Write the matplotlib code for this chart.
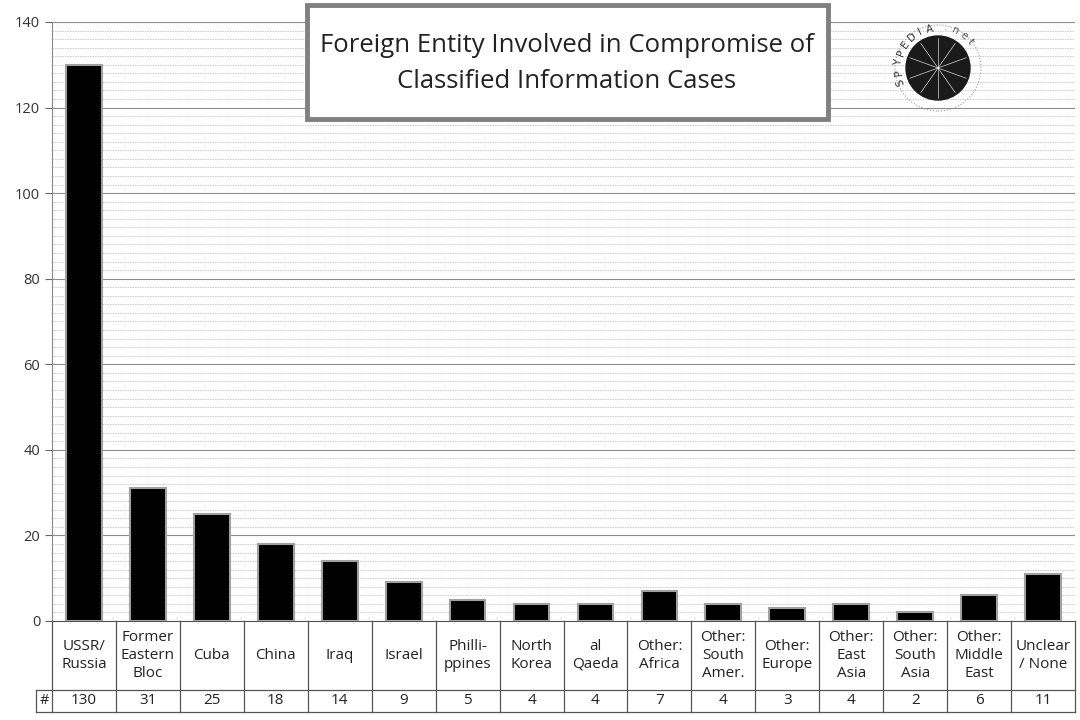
import numpy as np
import matplotlib.pyplot as plt
from matplotlib.patches import Circle, Rectangle

plt.rcParams['font.family'] = ['Open Sans', 'DejaVu Sans']

categories = ["USSR/\nRussia", "Former\nEastern\nBloc", "Cuba", "China", "Iraq", "Israel",
              "Philli-\nppines", "North\nKorea", "al\nQaeda", "Other:\nAfrica", "Other:\nSouth\nAmer.",
              "Other:\nEurope", "Other:\nEast\nAsia", "Other:\nSouth\nAsia", "Other:\nMiddle\nEast",
              "Unclear\n/ None"]
counts = [130, 31, 25, 18, 14, 9, 5, 4, 4, 7, 4, 3, 4, 2, 6, 11]
title_lines = ["Foreign Entity Involved in Compromise of", "Classified Information Cases"]

W, H = 1080, 720
fig = plt.figure(figsize=(10.8, 7.2), dpi=100)
L, R = 52 / W, 1075 / W
ax = fig.add_axes([L, (H - 621) / H, R - L, (621 - 22) / H])

x = np.arange(len(counts))
ax.bar(x, counts, width=0.56, color='black', edgecolor='#a0a0a0', linewidth=1.5, zorder=3)
ax.set_xlim(-0.5, len(counts) - 0.5)
ax.set_ylim(0, 140)
ax.set_yticks(range(0, 141, 20))
ax.set_yticks(range(0, 141, 2), minor=True)
ax.tick_params(axis='y', which='major', length=5, color='#666666', labelsize=10.5, labelcolor='#333333')
ax.tick_params(axis='y', which='minor', length=0)
ax.set_xticks([])
ax.grid(axis='y', which='minor', color='#c8c8c8', linewidth=0.6, linestyle=(0, (2, 1)), zorder=0)
ax.grid(axis='y', which='major', color='#8c8c8c', linewidth=0.8, zorder=1)
for s in ['top', 'right']:
    ax.spines[s].set_visible(False)
ax.spines['left'].set_color('#888888')
ax.spines['bottom'].set_color('#555555')

# title box
fig.patches.append(Rectangle((307 / W, 1 - 119 / H), (828 - 307) / W, (119 - 5) / H,
                             transform=fig.transFigure, facecolor='white', edgecolor='#808080',
                             linewidth=3.5, zorder=5))
fig.text(567 / W, 1 - 45 / H, title_lines[0], ha='center', va='center', fontsize=18.5, color='#222222', zorder=6)
fig.text(567 / W, 1 - 82 / H, title_lines[1], ha='center', va='center', fontsize=18.5, color='#222222', zorder=6)

# logo
logo = fig.add_axes([888 / W, 1 - 118 / H, 100 / W, 100 / H])
logo.set_xlim(-1, 1); logo.set_ylim(-1, 1); logo.axis('off')
logo.add_patch(Circle((0, 0), 0.64, color='#1a1a1a'))
logo.add_patch(Circle((0, 0), 0.86, fill=False, edgecolor='#999999', linestyle=':', linewidth=0.8))
for k in range(5):
    a = np.deg2rad(20 + k * 35)
    logo.plot([-0.6 * np.cos(a), 0.6 * np.cos(a)], [-0.6 * np.sin(a), 0.6 * np.sin(a)],
              color='white', lw=0.4)
for i, ch in enumerate("SPYPEDIA"):
    a = np.deg2rad(200 - i * 14)
    logo.text(0.8 * np.cos(a), 0.8 * np.sin(a), ch, rotation=np.rad2deg(a) - 90,
              ha='center', va='center', fontsize=7.5, color='#333333', family='DejaVu Sans')
for i, ch in enumerate(".net"):
    a = np.deg2rad(78 - i * 13)
    logo.text(0.82 * np.cos(a), 0.82 * np.sin(a), ch, rotation=np.rad2deg(a) - 90,
              ha='center', va='center', fontsize=7.5, color='#555555', family='DejaVu Sans')

# data table below
tab = fig.add_axes([L, 8 / H, R - L, (712 - 621) / H], frameon=False)
tab.set_xlim(-0.5, len(counts) - 0.5)
tab.set_ylim(0, 1)
tab.axis('off')
split = 22 / 91
lc = '#555555'
for i in range(len(counts) + 1):
    tab.plot([i - 0.5, i - 0.5], [0, 1], color=lc, lw=0.9, clip_on=False)
tab.plot([-0.5, len(counts) - 0.5], [split, split], color=lc, lw=0.9, clip_on=False)
tab.plot([-0.75, len(counts) - 0.5], [0, 0], color=lc, lw=0.9, clip_on=False)
tab.plot([-0.75, -0.5], [split, split], color=lc, lw=0.9, clip_on=False)
tab.plot([-0.75, -0.75], [0, split], color=lc, lw=0.9, clip_on=False)
tab.text(-0.625, split / 2, "#", ha='center', va='center', fontsize=10.5, color='#222222')
for i, (c, n) in enumerate(zip(categories, counts)):
    tab.text(i, (1 + split) / 2, c, ha='center', va='center', fontsize=11, color='#222222', linespacing=1.25)
    tab.text(i, split / 2, str(n), ha='center', va='center', fontsize=11, color='#222222')

fig.savefig('out.png', dpi=100)
